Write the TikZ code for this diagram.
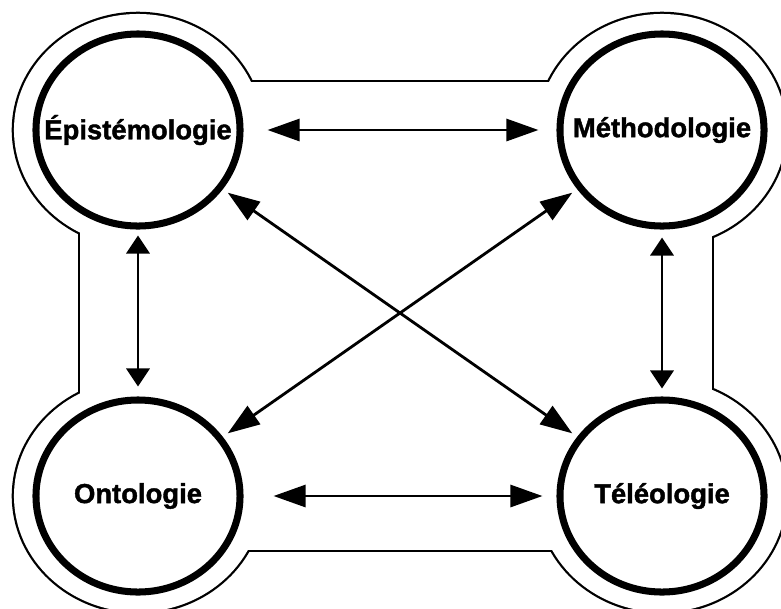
\documentclass[tikz,border=0pt]{standalone}
\usepackage{fontspec}
\setmainfont{Liberation Sans}[BoldFeatures={FakeBold=1.5}]
\usetikzlibrary{arrows.meta,shapes.geometric}
\newcommand{\poletext}[1]{\makebox[0pt]{#1}}

\begin{document}
\begin{tikzpicture}[x=0.025cm,y=-0.025cm,
    pole/.style={ellipse,draw,line width=5pt,minimum width=5.1cm,minimum height=4.8cm,
      inner sep=0pt,font=\fontsize{19.5}{22}\selectfont\bfseries},
    link/.style={{Triangle[length=0.8cm,width=0.55cm]}-{Triangle[length=0.8cm,width=0.55cm]},line width=2pt},
    vlink/.style={{Triangle[length=0.45cm,width=0.58cm]}-{Triangle[length=0.45cm,width=0.58cm]},line width=2pt}]
  \useasboundingbox (0,0) rectangle (781,608);
  \clip (0,0) rectangle (781,608);
  % contour
  \foreach \p in {(138,130),(662,130),(138,496),(662,496)}
    \draw[line width=3.2pt] \p ellipse [x radius=3.1cm,y radius=2.9cm];
  \draw[line width=3.2pt] (80,82) rectangle (712,550);
  \foreach \p in {(138,130),(662,130),(138,496),(662,496)}
    \fill[white] \p ellipse [x radius=3.1cm,y radius=2.9cm];
  \fill[white] (80,82) rectangle (712,550);
  % poles
  \node[pole] (epi) at (138,130) {\poletext{Épistémologie}};
  \node[pole] (meth) at (662,130) {\poletext{Méthodologie}};
  \node[pole] (onto) at (138,496) {\poletext{Ontologie}};
  \node[pole] (tele) at (662,496) {\poletext{Téléologie}};
  % liens
  \draw[link,shorten <=0.6cm,shorten >=0.45cm] (epi) -- (meth);
  \draw[link,shorten <=0.75cm,shorten >=0.35cm] (onto) -- (tele);
  \draw[vlink,shorten <=0.15cm,shorten >=0.25cm] (epi) -- (onto);
  \draw[vlink,shorten <=0.2cm,shorten >=0.2cm] (meth) -- (tele);
  \draw[link,shorten <=0.15cm,shorten >=0.15cm] (epi) -- (tele);
  \draw[link,shorten <=0.15cm,shorten >=0.15cm] (meth) -- (onto);
\end{tikzpicture}
\end{document}
